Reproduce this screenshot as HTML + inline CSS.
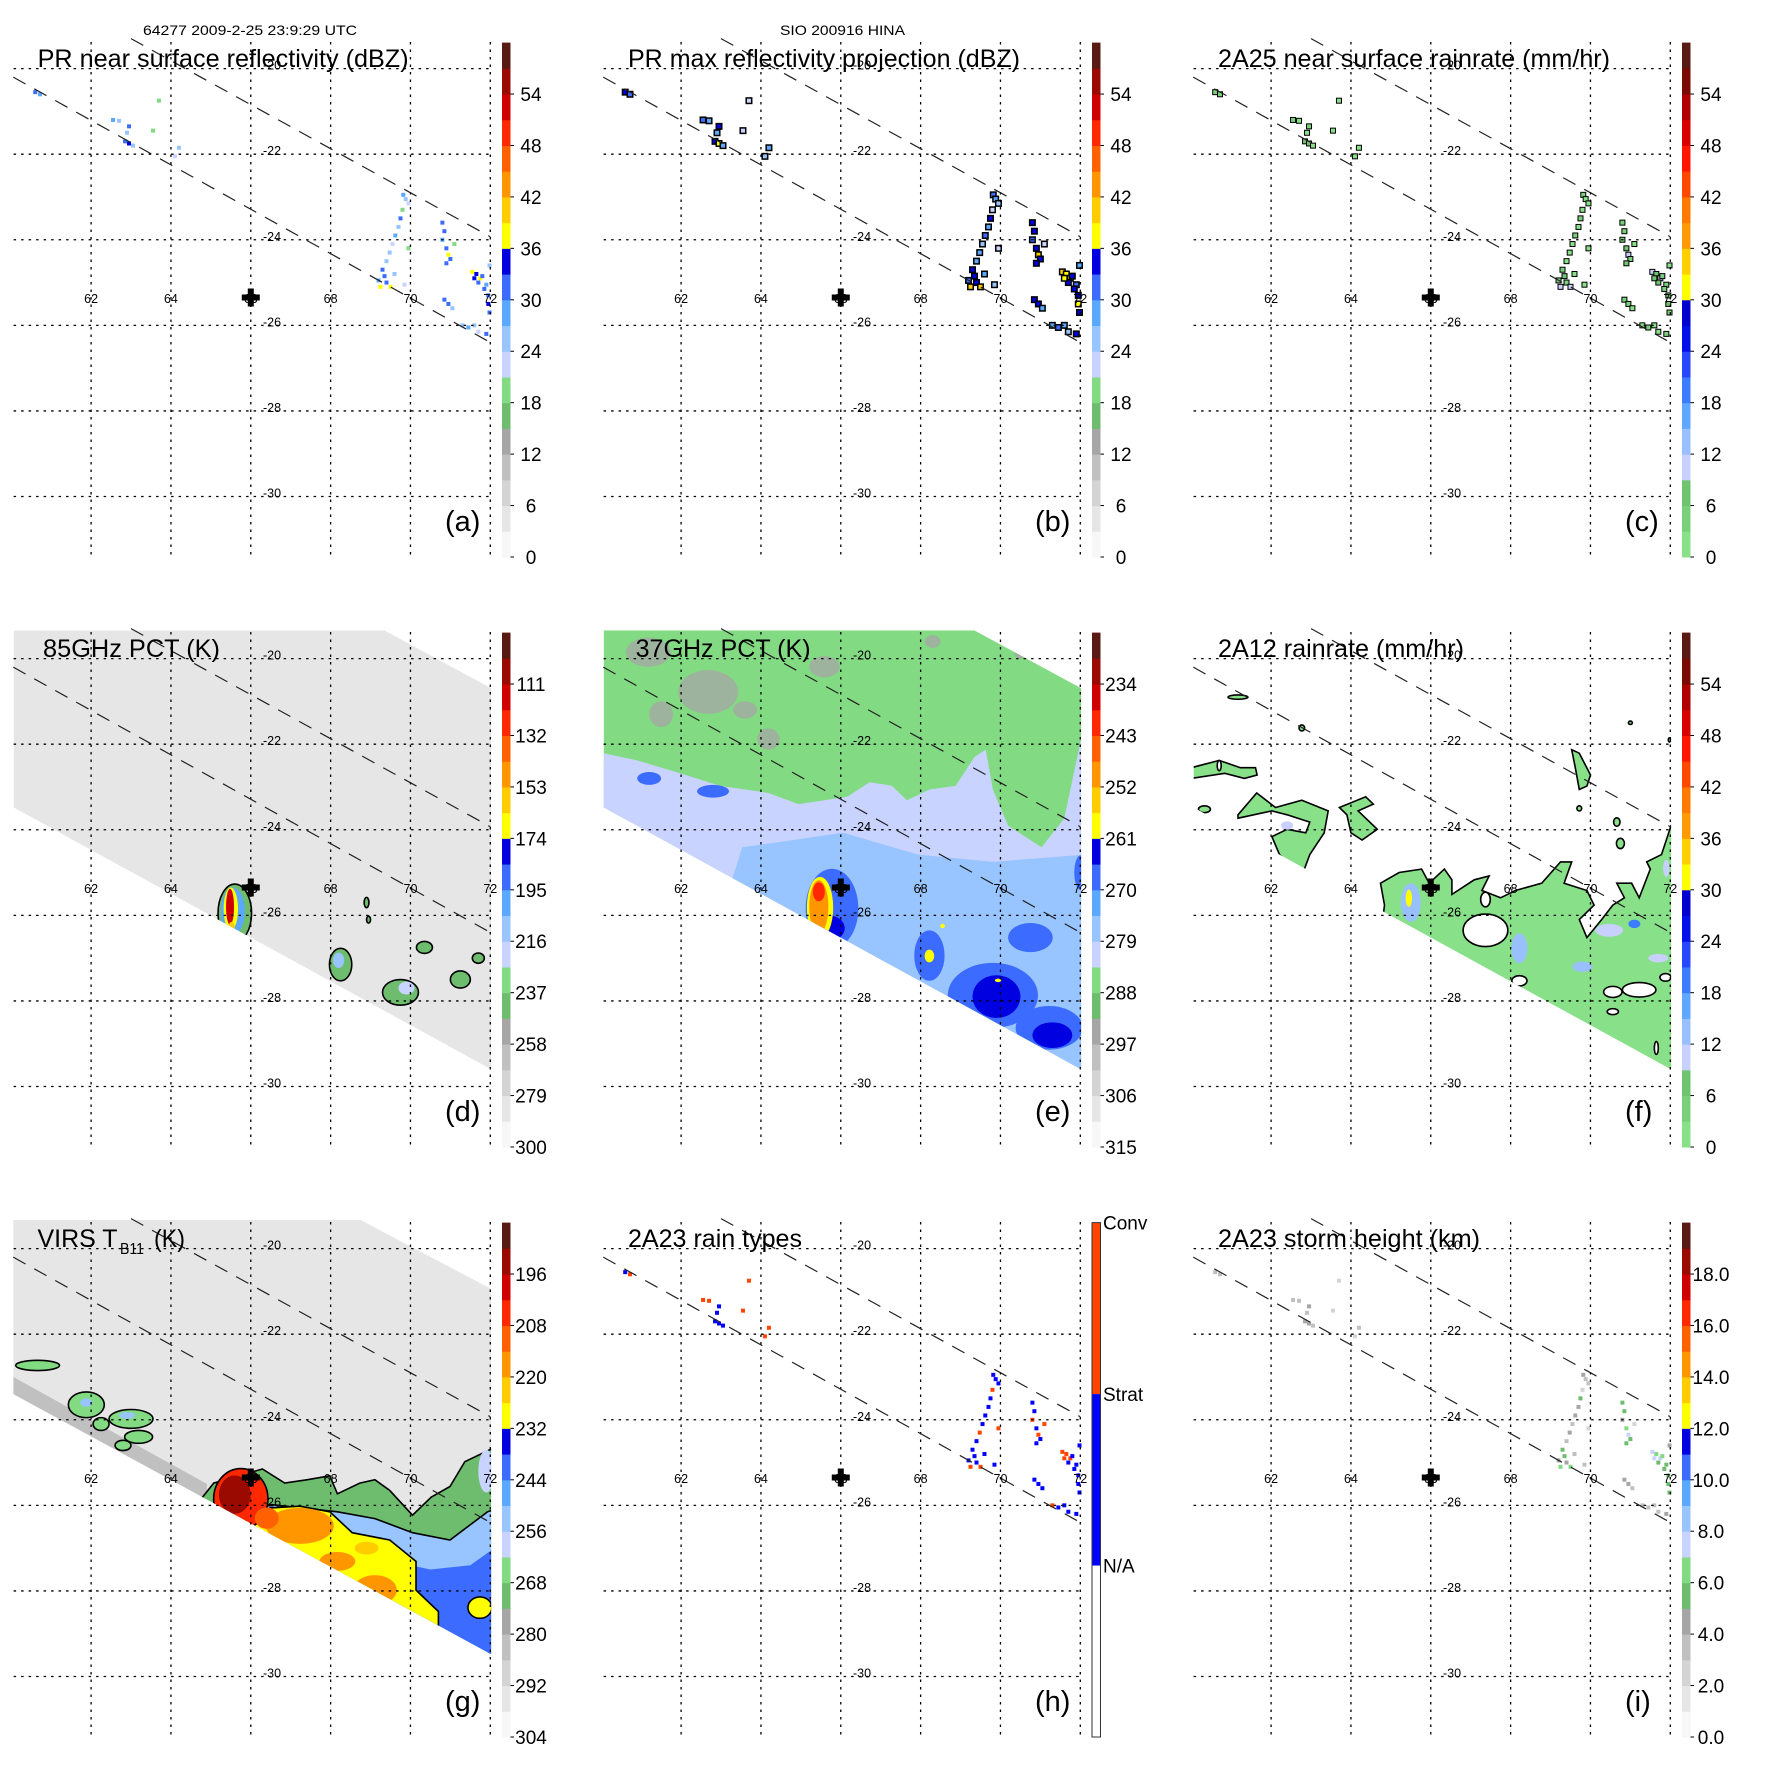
<!DOCTYPE html>
<html><head><meta charset="utf-8"><title>TRMM multi-panel</title>
<style>html,body{margin:0;padding:0;background:#fff}svg{display:block}</style></head>
<body>
<svg id="fig" width="1771" height="1771" viewBox="0 0 1771 1771" xmlns="http://www.w3.org/2000/svg" font-family="'Liberation Sans', sans-serif">
<defs id="defs"><clipPath id="mapclip"><rect x="13" y="40" width="480" height="516"/></clipPath></defs>
<rect width="1771" height="1771" fill="#fff"/>
<text x="143" y="35" font-size="14" textLength="214" lengthAdjust="spacingAndGlyphs">64277 2009-2-25 23:9:29 UTC</text>
<text x="780" y="35" font-size="14" textLength="125" lengthAdjust="spacingAndGlyphs">SIO 200916 HINA</text>
</svg>
<script>
// ---------- data ----------
const GRID_LONS=[62,64,66,68,70,72];
const GRID_LATS=[-20,-22,-24,-26,-28,-30];
const LON_LABELS=['62','64','66','68','70','72'];
const LAT_LABELS=['-20','-22','-24','-26','-28','-30'];
const STORM_CENTER=[66,-25.35];
const SWATH_UPPER=[[63.0,-19.3],[72.0,-23.93]];
const SWATH_LOWER=[[60.05,-20.2],[72.0,-26.4]];
const PMI_SWATH=[[60.06,-19.34],[69.35,-19.34],[72.02,-20.69],[72.02,-29.6],[60.06,-23.48]];
const VIRS_SWATH=[[60.05,-19.32],[68.73,-19.32],[72.02,-20.94],[72.02,-29.48],[60.05,-23.4]];

const TICKS_A=['0','6','12','18','24','30','36','42','48','54'];
const TICKS_D=['300','279','258','237','216','195','174','153','132','111'];
const TICKS_E=['315','306','297','288','279','270','261','252','243','234'];
const TICKS_G=['304','292','280','268','256','244','232','220','208','196'];
const TICKS_I=['0.0','2.0','4.0','6.0','8.0','10.0','12.0','14.0','16.0','18.0'];
const TICKS_H=['N/A','Strat','Conv'];

const PR_COLORS=['#f7f7f7','#e6e6e6','#d4d4d4','#c0c0c0','#a6a6a6','#6ebd6e','#82da82','#c9d3ff','#98c4ff','#5aa8ff','#3c6cff','#0000e0','#ffff00','#ffcc00','#ff9600','#ff6000','#ff2800','#d00000','#9a0a00','#5a1a14'];
const RAIN_COLORS=['#88e088','#7ad07a','#70c470','#c8d0ff','#98c0ff','#60a8ff','#3c7cff','#2848ff','#0010e8','#0000d0','#ffff00','#ffd000','#ff9a00','#ff7a00','#ff4800','#ff1800','#d80000','#b00000','#7a0a00','#5a1a14'];

// PR cells
const CELL_LON=[69.82,69.88,69.95,69.80,69.75,69.70,69.62,69.55,69.48,69.40,69.30,69.35,69.40,69.25,69.50,69.60,69.85,69.95,70.80,70.85,70.80,70.90,70.95,71.00,70.90,71.10,71.55,71.65,71.75,71.80,71.70,71.90,71.95,71.95,71.98,71.98,70.85,70.95,71.05,71.30,71.45,71.60,71.70,71.90,60.60,60.72,62.55,62.70,62.95,62.90,62.85,62.95,63.05,63.55,64.20,64.10,63.70,71.60,71.85,69.20];
const CELL_LAT=[-22.95,-23.05,-23.15,-23.30,-23.50,-23.70,-23.90,-24.10,-24.30,-24.50,-24.70,-24.85,-25.00,-25.10,-25.10,-24.80,-25.05,-24.20,-23.60,-23.80,-24.00,-24.20,-24.35,-24.45,-24.55,-24.10,-24.75,-24.80,-24.90,-24.85,-25.00,-25.05,-25.30,-25.50,-25.70,-24.60,-25.40,-25.50,-25.60,-26.00,-26.05,-26.00,-26.15,-26.20,-20.55,-20.60,-21.20,-21.22,-21.35,-21.50,-21.70,-21.75,-21.80,-21.45,-21.85,-22.05,-20.75,-24.90,-25.15,-24.95];
const CELL_DBZ=[28,24,22,20,30,26,28,22,26,24,30,32,30,36,36,24,22,18,32,30,28,32,36,30,32,20,36,33,36,30,32,28,32,34,30,24,30,32,26,26,28,24,22,30,32,28,28,26,30,26,32,33,24,20,24,22,20,34,30,28];
const CELL_RAIN=[3,2,1,1,4,2,3,1,2,2,4,6,4,9,9,2,1,1,5,4,3,6,9,4,6,1,10,7,10,4,6,3,6,7,4,2,4,5,2,2,3,2,1,4,5,3,3,2,4,2,6,7,2,1,2,1,1,8,4,3];
const CELL_TYPE=['S','S','S','C','S','S','S','S','C','S','S','S','S','C','C','S','S','C','S','S','C','S','C','S','S','C','C','C','C','S','S','S','S','S','S','S','S','S','S','C','S','S','S','S','S','C','C','C','S','S','S','S','S','C','C','C','C','C','S','S'];
const CELL_HT=[4,3,3,2,5,4,4,3,4,3,5,5,4,6,6,3,3,2,5,5,4,6,7,5,5,2,7,6,7,6,5,5,5,5,5,4,4,4,3,3,3,3,3,4,3,3,3,3,4,3,4,4,3,2,3,2,2,7,5,4];

// 85 GHz (d)
const D_LON=[63.2,62.0,64.5,66.8,65.6,65.55,65.5,65.48,65.52,68.25,68.2,69.75,69.9,70.35,71.25,71.7,68.9,68.95];
const D_LAT=[-23.2,-22.6,-22.5,-24.0,-25.95,-25.9,-25.85,-25.8,-26.3,-27.15,-27.05,-27.8,-27.7,-26.75,-27.5,-27.0,-25.7,-26.1];
const D_RX=[0.3,0.5,0.4,0.4,0.42,0.3,0.18,0.1,0.08,0.28,0.14,0.45,0.2,0.2,0.25,0.15,0.06,0.05];
const D_RY=[0.2,0.25,0.3,0.2,0.68,0.55,0.5,0.42,0.15,0.38,0.18,0.3,0.15,0.14,0.2,0.12,0.12,0.08];
const D_VAL=[281,281,282,282,240,200,170,120,160,240,210,240,225,240,245,245,240,240];
const D_EDGE=[0,0,0,0,1,0,0,0,0,1,0,1,0,1,1,1,1,1];

// 37 GHz (e)
const E_BG=286;
const E_LAV=[[60.06,-22.21],[60.90,-22.38],[61.84,-22.64],[62.97,-22.97],[64.19,-23.14],[64.94,-23.40],[65.59,-23.31],[66.16,-23.23],[66.72,-22.89],[67.28,-22.97],[67.66,-23.31],[68.22,-23.06],[68.88,-22.97],[69.35,-22.30],[69.63,-22.13],[69.81,-23.06],[70.19,-23.90],[71.03,-24.41],[71.60,-23.73],[72.02,-21.88],[72.1,-21.88],[72.1,-30],[60,-30]];
const E_LAV_VAL=282;
const E_LBLUE=[[63.53,-24.41],[66.06,-24.07],[67.94,-24.58],[69.81,-24.75],[72.1,-24.58],[72.1,-30],[63.0,-26.0]];
const E_LBLUE_VAL=277;
const E_LON=[62.68,64.19,61.18,65.59,61.5,63.6,68.3,70.5,65.78,68.22,69.81,71.22,70.75,61.2,62.8,72.0,69.9,71.3,65.7,65.48,65.45,65.45,68.22,69.94,68.55];
const E_LAT=[-20.78,-21.88,-19.85,-20.19,-21.3,-21.2,-19.6,-19.9,-25.84,-26.94,-27.87,-28.63,-26.52,-22.8,-23.1,-25.0,-27.9,-28.8,-26.3,-25.82,-25.8,-25.45,-26.95,-27.52,-26.25];
const E_RX=[0.75,0.28,0.56,0.38,0.3,0.3,0.2,0.15,0.66,0.38,1.13,0.84,0.56,0.3,0.4,0.15,0.6,0.5,0.4,0.33,0.24,0.15,0.12,0.08,0.06];
const E_RY=[0.51,0.25,0.34,0.25,0.3,0.2,0.15,0.1,0.93,0.59,0.76,0.51,0.34,0.15,0.15,0.4,0.5,0.3,0.3,0.72,0.62,0.22,0.15,0.04,0.05];
const E_VAL=[296,296,296,296,296,296,296,296,268,268,268,268,268,270,270,268,262,262,262,259,250,240,259,259,259];

// 2A12 (f)
const F_MAIN=[[64.74,-25.25],[65.21,-25.0],[65.77,-24.92],[65.96,-25.25],[66.34,-24.92],[66.53,-25.17],[66.53,-25.51],[67.09,-25.17],[67.46,-25.08],[67.28,-25.42],[67.75,-25.59],[68.12,-25.42],[68.78,-25.25],[69.25,-24.75],[69.53,-24.75],[69.34,-25.25],[69.91,-25.42],[70.09,-25.76],[69.72,-26.10],[69.91,-26.52],[70.28,-26.10],[70.56,-25.76],[70.85,-25.59],[70.66,-25.25],[71.03,-25.25],[71.22,-25.59],[71.50,-24.92],[71.41,-24.75],[71.78,-24.58],[72.02,-23.90],[72.1,-23.9],[72.1,-30],[64.6,-27.5],[64.84,-25.76]];
const F_I1=[[60.0,-22.55],[60.70,-22.38],[61.23,-22.55],[61.61,-22.55],[61.65,-22.72],[61.33,-22.80],[60.84,-22.68],[60.0,-22.80]];
const F_I2=[[61.17,-23.65],[61.64,-23.14],[62.11,-23.48],[62.77,-23.31],[63.43,-23.56],[63.33,-24.07],[62.97,-24.58],[62.77,-25.08],[62.21,-24.58],[62.02,-24.16],[62.40,-23.99],[62.87,-24.07],[62.97,-23.82],[62.40,-23.65],[62.02,-23.56],[61.17,-23.73]];
const F_I3=[[63.71,-23.48],[64.37,-23.23],[64.56,-23.40],[64.18,-23.56],[64.66,-23.99],[64.28,-24.24],[64.0,-24.07],[63.90,-23.65]];
const F_I4=[[69.53,-22.13],[69.72,-22.21],[70.0,-22.72],[69.91,-22.98],[69.72,-23.06],[69.62,-22.55]];
const F_RAIN_BG=2;
const F_LON=[70.66,70.75,69.72,60.33,62.77,61.17,71.0,71.98,65.5,65.45,68.22,70.47,69.8,71.1,62.4,71.9,71.7,67.37,67.37,71.22,70.56,68.22,70.56,71.88,71.65,60.7];
const F_LAT=[-23.82,-24.32,-23.5,-23.52,-21.62,-20.9,-21.5,-21.9,-25.7,-25.6,-26.77,-26.35,-27.2,-26.2,-23.9,-24.9,-27.0,-26.35,-25.63,-27.74,-27.79,-27.53,-28.25,-27.45,-29.1,-22.5];
const F_RX=[0.08,0.1,0.06,0.15,0.07,0.25,0.05,0.03,0.25,0.08,0.2,0.35,0.25,0.15,0.15,0.08,0.25,0.56,0.12,0.42,0.23,0.19,0.14,0.14,0.05,0.05];
const F_RY=[0.1,0.12,0.06,0.08,0.07,0.05,0.04,0.05,0.45,0.2,0.35,0.15,0.12,0.1,0.1,0.2,0.1,0.38,0.17,0.17,0.13,0.12,0.07,0.09,0.15,0.12];
const F_VAL=[2,2,2,2,2,2,2,2,14,30,12,10,12,20,10,10,9,-1,-1,-1,-1,-1,-1,-1,-1,-1];
const F_EDGE=[1,1,1,1,1,1,1,1,0,0,0,0,0,0,0,0,0,1,1,1,1,1,1,1,1,1];

// VIRS (g)
const G_BG=295;
const G_EDGEBAND=[[60.05,-23.0],[64.9,-25.5],[64.9,-27],[60.05,-24]];
const G_EDGEBAND_VAL=284;
const G_GREEN=[[64.79,-25.81],[65.07,-25.48],[66.29,-25.15],[66.85,-25.48],[67.42,-25.40],[67.98,-25.31],[68.17,-25.73],[68.73,-25.48],[69.11,-25.40],[69.48,-25.65],[70.05,-26.23],[70.52,-25.81],[70.99,-25.56],[71.36,-24.98],[72.1,-24.65],[72.1,-30],[64.5,-27]];
const G_GREEN_VAL=270;
const G_BLUE=[[65.82,-26.39],[66.48,-25.98],[68.17,-26.15],[69.11,-26.31],[70.05,-26.64],[70.99,-26.81],[71.93,-26.15],[72.1,-26.1],[72.1,-30],[65.5,-27]];
const G_BLUE_VAL=253;
const G_DBLUE=[[69.5,-27.3],[70.5,-27.5],[71.5,-27.4],[72.1,-27.0],[72.1,-30],[69.5,-29]];
const G_DBLUE_VAL=242;
const G_YELLOW=[[66.01,-26.35],[66.48,-26.06],[67.23,-26.02],[67.98,-26.15],[68.54,-26.64],[69.48,-26.81],[70.14,-27.31],[70.14,-27.98],[70.70,-28.48],[70.70,-28.81],[70.7,-30],[65.5,-27.5]];
const G_YELLOW_VAL=230;
const G_LON=[67.23,69.11,68.17,68.9,65.75,65.6,66.4,71.74,60.66,61.88,63.0,63.19,62.25,62.8,61.88,62.9,71.9];
const G_LAT=[-26.48,-27.98,-27.31,-27.0,-25.85,-25.75,-26.3,-28.39,-22.73,-23.65,-23.98,-24.40,-24.1,-24.6,-23.6,-23.9,-25.2];
const G_RX=[0.85,0.55,0.45,0.3,0.68,0.4,0.3,0.3,0.55,0.45,0.55,0.35,0.2,0.2,0.15,0.2,0.2];
const G_RY=[0.42,0.35,0.22,0.15,0.71,0.45,0.25,0.25,0.12,0.3,0.22,0.15,0.15,0.12,0.1,0.08,0.5];
const G_VAL=[220,220,220,222,205,196,212,230,268,268,268,268,268,268,255,255,258];
const G_EDGE=[0,0,0,0,1,0,0,1,1,1,1,1,1,1,0,0,0];

// ---------- axis functions ----------
function X(lon){return 91.1+(lon-62)*39.92;}
function Y(lat){return 68.6+(-20-lat)*42.79;}
const CB_TOP=42.6, CB_BOT=557;
function cbY(frac){return CB_BOT-frac*(CB_BOT-CB_TOP);}
function pal(colors,frac){let i=Math.floor(frac*colors.length);if(i<0)i=0;if(i>=colors.length)i=colors.length-1;return colors[i];}
function fracA(v){return v/60;}
function fracD(v){return (300-v)/210;}
function fracE(v){return (315-v)/90;}
function fracG(v){return (304-v)/120;}
function fracI(v){return v/20;}
function pts(arr){return arr.map(p=>X(p[0]).toFixed(1)+','+Y(p[1]).toFixed(1)).join(' ');}

const NS='http://www.w3.org/2000/svg';
const svg=document.getElementById('fig');
const defs=document.getElementById('defs');
function mk(tag,parent){const e=document.createElementNS(NS,tag);parent.appendChild(e);return e;}

[['swclip-pmi',PMI_SWATH],['swclip-virs',VIRS_SWATH]].forEach(function(s){
  const cp=mk('clipPath',defs);cp.setAttribute('id',s[0]);
  const p=mk('polygon',cp);p.setAttribute('points',pts(s[1]));
});

function poly(parent,arr,fill,edge,name){
  const p=mk('polygon',parent);
  p.setAttribute('points',pts(arr));p.setAttribute('fill',fill);
  if(edge){p.setAttribute('stroke','#000');p.setAttribute('stroke-width','1.6');}
  
  
  return p;
}
function ell(parent,lon,lat,rx,ry,fill,edge,name){
  const e=mk('ellipse',parent);
  e.setAttribute('cx',X(lon));e.setAttribute('cy',Y(lat));
  e.setAttribute('rx',rx*39.92);e.setAttribute('ry',ry*42.79);
  e.setAttribute('fill',fill);
  if(edge){e.setAttribute('stroke','#000');e.setAttribute('stroke-width','1.6');}
  
  
  return e;
}

function drawCells(parent,mode){
  for(let i=0;i<CELL_LON.length;i++){
    const x=X(CELL_LON[i]),y=Y(CELL_LAT[i]);
    let col,s=4,outline=0;
    if(mode==='a'){col=pal(PR_COLORS,fracA(CELL_DBZ[i]));}
    else if(mode==='b'){col=pal(PR_COLORS,fracA(CELL_DBZ[i]+3));outline=7;}
    else if(mode==='c'){col=pal(RAIN_COLORS,fracA(CELL_RAIN[i]));outline=6;}
    else if(mode==='h'){col=CELL_TYPE[i]==='C'?'#ff4500':'#0000ff';}
    else {col=pal(PR_COLORS,fracI(CELL_HT[i]));}
    if(outline){
      const o=mk('rect',parent);
      o.setAttribute('x',x-outline/2);o.setAttribute('y',y-outline/2);
      o.setAttribute('width',outline);o.setAttribute('height',outline);o.setAttribute('fill','#000');
      
      
    }
    const r=mk('rect',parent);
    r.setAttribute('x',x-s/2);r.setAttribute('y',y-s/2);r.setAttribute('width',s);r.setAttribute('height',s);
    r.setAttribute('fill',col);
    
    
  }
}

function drawD(parent){
  const g=mk('g',parent);g.setAttribute('clip-path','url(#swclip-pmi)');
  poly(g,PMI_SWATH,pal(PR_COLORS,fracD(286)),0,'pct85-swath');
  for(let i=0;i<D_LON.length;i++){
    ell(g,D_LON[i],D_LAT[i],D_RX[i],D_RY[i],pal(PR_COLORS,fracD(D_VAL[i])),D_EDGE[i],'pct85-feature');
  }
}
function drawE(parent){
  const g=mk('g',parent);g.setAttribute('clip-path','url(#swclip-pmi)');
  poly(g,PMI_SWATH,pal(PR_COLORS,fracE(E_BG)),0,'pct37-swath');
  poly(g,E_LAV,pal(PR_COLORS,fracE(E_LAV_VAL)),0,'pct37-rain-region');
  poly(g,E_LBLUE,pal(PR_COLORS,fracE(E_LBLUE_VAL)),0,'pct37-rain-core');
  for(let i=0;i<E_LON.length;i++){
    const e=ell(g,E_LON[i],E_LAT[i],E_RX[i],E_RY[i],pal(PR_COLORS,fracE(E_VAL[i])),0,'pct37-feature');
    if(E_VAL[i]>=295)e.setAttribute('opacity','0.75');
  }
}
function drawF(parent){
  const g=mk('g',parent);g.setAttribute('clip-path','url(#swclip-pmi)');
  const bg=pal(RAIN_COLORS,fracA(F_RAIN_BG));
  poly(g,F_MAIN,bg,1,'rain-region-main');
  poly(g,F_I1,bg,1,'rain-island');
  poly(g,F_I2,bg,1,'rain-island');
  poly(g,F_I3,bg,1,'rain-island');
  poly(g,F_I4,bg,1,'rain-island');
  for(let i=0;i<F_LON.length;i++){
    const c=F_VAL[i]<0?'#fff':pal(RAIN_COLORS,fracA(F_VAL[i]));
    ell(g,F_LON[i],F_LAT[i],F_RX[i],F_RY[i],c,F_EDGE[i],F_VAL[i]<0?'rain-hole':'rain-feature');
  }
}
function drawG(parent){
  const g=mk('g',parent);g.setAttribute('clip-path','url(#swclip-virs)');
  poly(g,VIRS_SWATH,pal(PR_COLORS,fracG(G_BG)),0,'virs-swath');
  poly(g,G_EDGEBAND,pal(PR_COLORS,fracG(G_EDGEBAND_VAL)),0,'virs-edge-band');
  poly(g,G_GREEN,pal(PR_COLORS,fracG(G_GREEN_VAL)),1,'virs-cloud-edge');
  poly(g,G_BLUE,pal(PR_COLORS,fracG(G_BLUE_VAL)),1,'virs-cloud');
  poly(g,G_DBLUE,pal(PR_COLORS,fracG(G_DBLUE_VAL)),0,'virs-cloud-deep');
  poly(g,G_YELLOW,pal(PR_COLORS,fracG(G_YELLOW_VAL)),1,'virs-cold-cloud');
  for(let i=0;i<G_LON.length;i++){
    ell(g,G_LON[i],G_LAT[i],G_RX[i],G_RY[i],pal(PR_COLORS,fracG(G_VAL[i])),G_EDGE[i],'virs-feature');
  }
}

const PANELS=[
 {id:'a',col:0,row:0,title:'PR near surface reflectivity (dBZ)',tx:37.6,tw:371,kind:'cells',mode:'a',ticks:TICKS_A,colors:PR_COLORS},
 {id:'b',col:590,row:0,title:'PR max reflectivity projection (dBZ)',tx:38,tw:392,kind:'cells',mode:'b',ticks:TICKS_A,colors:PR_COLORS},
 {id:'c',col:1180,row:0,title:'2A25 near surface rainrate (mm/hr)',tx:38,tw:392,kind:'cells',mode:'c',ticks:TICKS_A,colors:RAIN_COLORS},
 {id:'d',col:0,row:590,title:'85GHz PCT (K)',tx:43,tw:177,kind:'d',ticks:TICKS_D,colors:PR_COLORS},
 {id:'e',col:590,row:590,title:'37GHz PCT (K)',tx:45.6,tw:175,kind:'e',ticks:TICKS_E,colors:PR_COLORS},
 {id:'f',col:1180,row:590,title:'2A12 rainrate (mm/hr)',tx:38,tw:246,kind:'f',ticks:TICKS_A,colors:RAIN_COLORS},
 {id:'g',col:0,row:1180,title:'',tx:37.5,tw:0,kind:'g',ticks:TICKS_G,colors:PR_COLORS},
 {id:'h',col:590,row:1180,title:'2A23 rain types',tx:38,tw:174,kind:'cells',mode:'h',ticks:TICKS_H,colors:null},
 {id:'i',col:1180,row:1180,title:'2A23 storm height (km)',tx:38,tw:262,kind:'cells',mode:'i',ticks:TICKS_I,colors:PR_COLORS}
];

PANELS.forEach(function(P){
  const g=mk('g',svg);
  g.setAttribute('transform','translate('+P.col+','+P.row+')');
  
  
  const map=mk('g',g);
  map.setAttribute('clip-path','url(#mapclip)');
  
  
  if(P.kind==='cells')drawCells(map,P.mode);
  else if(P.kind==='d')drawD(map);
  else if(P.kind==='e')drawE(map);
  else if(P.kind==='f')drawF(map);
  else if(P.kind==='g')drawG(map);

  GRID_LONS.forEach(function(lon){
    const l=mk('line',g);
    l.setAttribute('x1',X(lon));l.setAttribute('x2',X(lon));l.setAttribute('y1',42);l.setAttribute('y2',555);
    l.setAttribute('stroke','#000');l.setAttribute('stroke-width','1.3');l.setAttribute('stroke-dasharray','2.5,5');
    
    
  });
  GRID_LATS.forEach(function(lat){
    const l=mk('line',g);
    l.setAttribute('x1',13.6);l.setAttribute('x2',492);l.setAttribute('y1',Y(lat));l.setAttribute('y2',Y(lat));
    l.setAttribute('stroke','#000');l.setAttribute('stroke-width','1.3');l.setAttribute('stroke-dasharray','2.5,5');
    
    
  });
  [SWATH_UPPER,SWATH_LOWER].forEach(function(s){
    const l=mk('line',g);
    l.setAttribute('x1',X(s[0][0]));l.setAttribute('y1',Y(s[0][1]));l.setAttribute('x2',X(s[1][0]));l.setAttribute('y2',Y(s[1][1]));
    l.setAttribute('stroke','#222');l.setAttribute('stroke-width','1.2');l.setAttribute('stroke-dasharray','14,10');
    
    
  });
  GRID_LONS.forEach(function(lon,k){
    const t=mk('text',g);
    t.setAttribute('x',X(lon));t.setAttribute('y',303);t.setAttribute('font-size','12.5');t.setAttribute('text-anchor','middle');
    t.textContent=LON_LABELS[k];
    
    
  });
  GRID_LATS.forEach(function(lat,k){
    const t=mk('text',g);
    t.setAttribute('x',263);t.setAttribute('y',Y(lat)+1);t.setAttribute('font-size','12.5');
    t.textContent=LAT_LABELS[k];
    
    
  });
  const cx=X(STORM_CENTER[0]),cy=Y(STORM_CENTER[1]);
  const cr=mk('path',g);
  cr.setAttribute('d','M'+(cx-9)+' '+(cy-3)+'h6v-6h6v6h6v6h-6v6h-6v-6h-6z');
  cr.setAttribute('fill','#000');
  
  
  if(P.id==='g'){
    const t1=mk('text',g);t1.setAttribute('x',37.5);t1.setAttribute('y',67);t1.setAttribute('font-size','25');
    t1.setAttribute('textLength','80');t1.setAttribute('lengthAdjust','spacingAndGlyphs');t1.textContent='VIRS T';
    
    
    const t2=mk('text',g);t2.setAttribute('x',120);t2.setAttribute('y',74);t2.setAttribute('font-size','16');
    t2.setAttribute('textLength','24');t2.setAttribute('lengthAdjust','spacingAndGlyphs');t2.textContent='B11';
    
    
    const t3=mk('text',g);t3.setAttribute('x',154);t3.setAttribute('y',67);t3.setAttribute('font-size','25');
    t3.setAttribute('textLength','31');t3.setAttribute('lengthAdjust','spacingAndGlyphs');t3.textContent='(K)';
    
    
  } else {
    const t=mk('text',g);t.setAttribute('x',P.tx);t.setAttribute('y',67);t.setAttribute('font-size','25');
    t.setAttribute('textLength',P.tw);t.setAttribute('lengthAdjust','spacingAndGlyphs');t.textContent=P.title;
    
    
  }
  const lt=mk('text',g);lt.setAttribute('x',445);lt.setAttribute('y',531);lt.setAttribute('font-size','29');
  lt.textContent='('+P.id+')';
  
  

  const cb=mk('g',g);
  
  
  if(P.colors){
    const n=P.colors.length;
    for(let k=0;k<n;k++){
      const r=mk('rect',cb);
      const y1=cbY((k+1)/n),y0=cbY(k/n);
      r.setAttribute('x',502);r.setAttribute('y',y1);r.setAttribute('width',8.5);r.setAttribute('height',y0-y1+0.5);
      r.setAttribute('fill',P.colors[k]);
      
      
    }
    P.ticks.forEach(function(lab,k){
      const y=cbY(k/10);
      const tk=mk('line',cb);
      tk.setAttribute('x1',510.5);tk.setAttribute('x2',514);tk.setAttribute('y1',y);tk.setAttribute('y2',y);tk.setAttribute('stroke','#000');
      
      
      const t=mk('text',cb);
      t.setAttribute('x',531);t.setAttribute('y',y+7);t.setAttribute('font-size','19');t.setAttribute('text-anchor','middle');
      t.textContent=lab;
      
      
    });
  } else {
    const cols=['#ffffff','#0000ff','#ff4500'];
    for(let k=0;k<3;k++){
      const r=mk('rect',cb);
      const y1=cbY((k+1)/3),y0=cbY(k/3);
      r.setAttribute('x',502);r.setAttribute('y',y1);r.setAttribute('width',8.5);r.setAttribute('height',y0-y1);
      r.setAttribute('fill',cols[k]);
      
      
    }
    const fr=mk('rect',cb);
    fr.setAttribute('x',502);fr.setAttribute('y',CB_TOP);fr.setAttribute('width',8.5);fr.setAttribute('height',CB_BOT-CB_TOP);
    fr.setAttribute('fill','none');fr.setAttribute('stroke','#333');fr.setAttribute('stroke-width','1');
    
    
    P.ticks.forEach(function(lab,k){
      const y=cbY((k+1)/3);
      const t=mk('text',cb);
      t.setAttribute('x',513);t.setAttribute('y',y+7);t.setAttribute('font-size','19');
      t.textContent=lab;
      
      
    });
  }
});
</script>
</body></html>
